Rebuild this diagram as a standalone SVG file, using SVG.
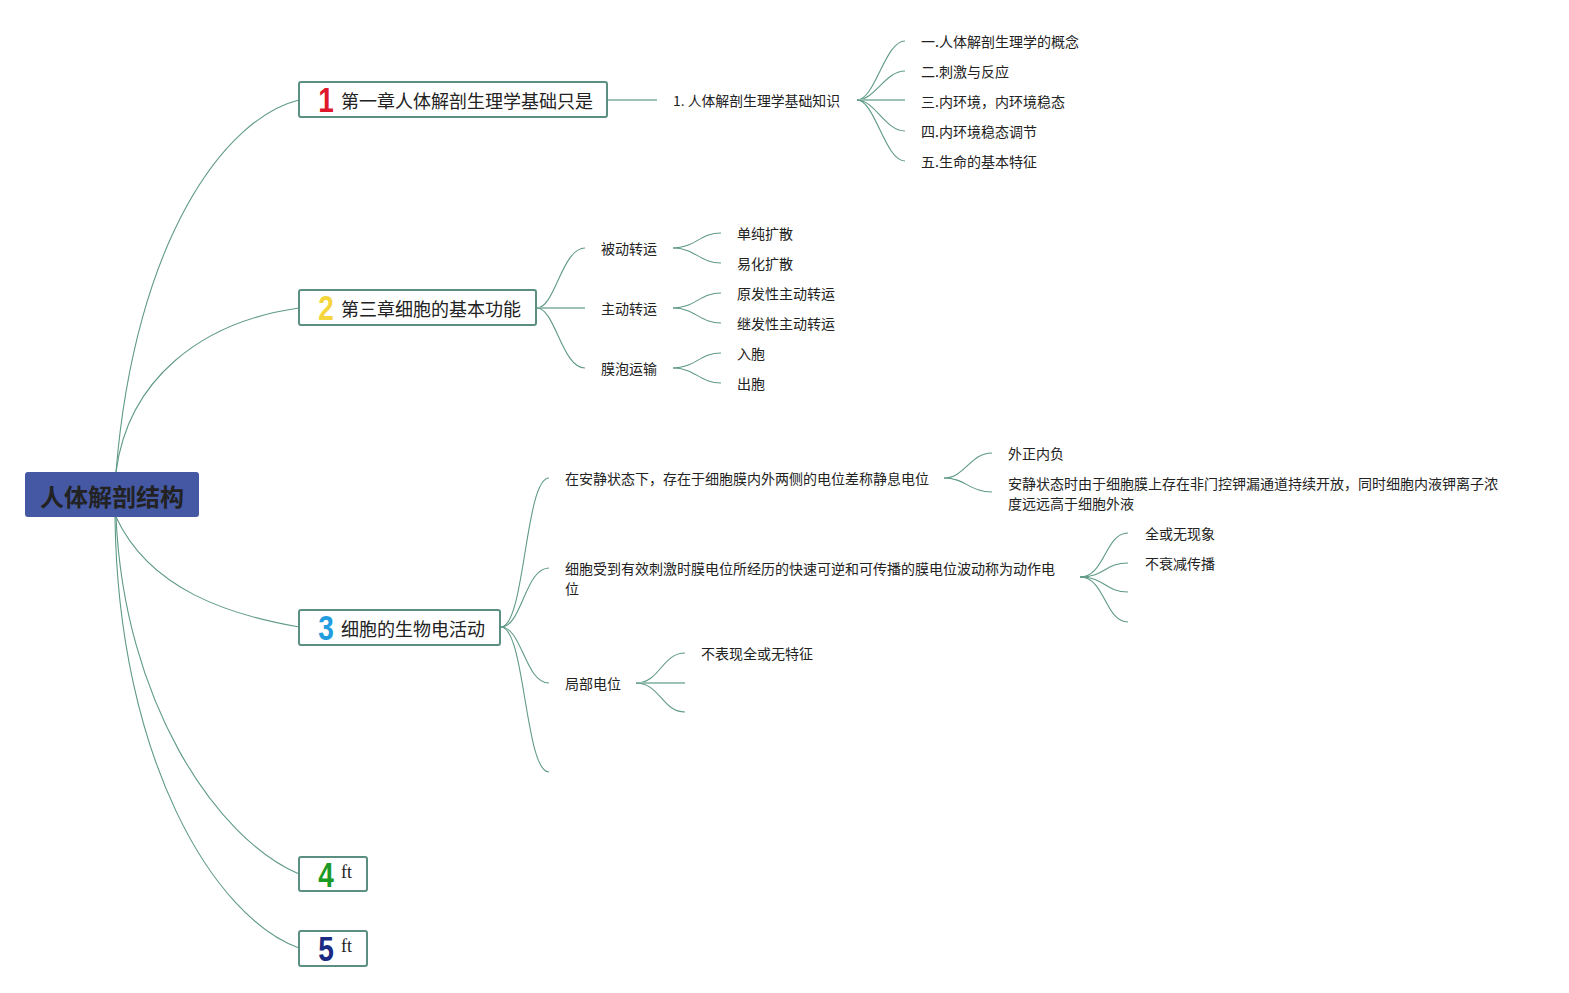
<svg xmlns="http://www.w3.org/2000/svg" width="1569" height="993" viewBox="0 0 1569 993">
<style>
.c{fill:none;stroke:#5f9987;stroke-width:1.1}
.s{fill:none;stroke:#9cc3b6;stroke-width:2}
.box{fill:#fff;stroke:#5b8f81;stroke-width:2}
.t{font-family:"Noto Sans CJK SC","Noto Sans",sans-serif;fill:#222;dominant-baseline:central}
.n{font-family:"Liberation Sans","Noto Sans",sans-serif;font-weight:900;font-size:35px;dominant-baseline:central}
.ft{font-family:"Liberation Serif",serif;font-size:18px;fill:#222}
</style>
<rect width="1569" height="993" fill="#fff"/>
<g id="connectors">
<path class="c" d="M116,472 C135,240 225,118 299,100"/>
<path class="c" d="M116,472 C128,380 200,322 299,308"/>
<path class="c" d="M116,517 C150,590 230,615 299,627"/>
<path class="c" d="M116,517 C124,700 215,838 299,874"/>
<path class="c" d="M115,517 C118,760 215,918 299,948"/>
<line class="s" x1="607" y1="100" x2="657" y2="100"/>
<path class="c" d="M857,100 C875,100 885,41 905,41"/>
<path class="c" d="M857,100 C875,100 885,71 905,71"/>
<line class="s" x1="857" y1="100" x2="905" y2="100"/>
<path class="c" d="M857,100 C875,100 885,131 905,131"/>
<path class="c" d="M857,100 C875,100 885,161 905,161"/>
<path class="c" d="M537,308 C555,308 562,248 585,248"/>
<line class="s" x1="537" y1="308" x2="585" y2="308"/>
<path class="c" d="M537,308 C555,308 562,368 585,368"/>
<path class="c" d="M673,248 C695,248 700,233 721,233"/>
<path class="c" d="M673,248 C695,248 700,263 721,263"/>
<path class="c" d="M673,308 C695,308 700,293 721,293"/>
<path class="c" d="M673,308 C695,308 700,323 721,323"/>
<path class="c" d="M673,368 C695,368 700,353 721,353"/>
<path class="c" d="M673,368 C695,368 700,383 721,383"/>
<path class="c" d="M501,627 C525,627 525,478 549,478"/>
<path class="c" d="M501,627 C522,627 525,568 549,568"/>
<path class="c" d="M501,627 C522,627 525,683 549,683"/>
<path class="c" d="M501,627 C525,627 525,772 549,772"/>
<path class="c" d="M944,478 C965,478 970,453 992,453"/>
<path class="c" d="M944,478 C965,478 970,492 992,492"/>
<path class="c" d="M1080,577 C1105,577 1105,533 1128,533"/>
<path class="c" d="M1080,577 C1105,577 1105,563 1128,563"/>
<path class="c" d="M1080,577 C1105,577 1105,592 1128,592"/>
<path class="c" d="M1080,577 C1105,577 1105,622 1128,622"/>
<path class="c" d="M636,683 C660,683 662,653 685,653"/>
<line class="s" x1="636" y1="683" x2="685" y2="683"/>
<path class="c" d="M636,683 C660,683 662,712 685,712"/>
</g>
<g id="root">
<rect x="25" y="472" width="174" height="45" rx="3" fill="#4558a4"/>
<text class="t" x="112" y="495" font-size="24" font-weight="bold" text-anchor="middle" fill="#111">人体解剖结构</text>
</g>
<g id="n1">
<rect class="box" x="299" y="82" width="308" height="35" rx="2"/>
<text class="n" x="326" y="100" fill="#e0182e" text-anchor="middle" transform="translate(326 0) scale(0.8 1) translate(-326 0)">1</text>
<text class="t" x="341" y="100" font-size="18">第一章人体解剖生理学基础只是</text>
</g>
<g id="n2">
<rect class="box" x="299" y="290" width="237" height="35" rx="2"/>
<text class="n" x="326" y="308" fill="#f4d53c" text-anchor="middle" transform="translate(326 0) scale(0.8 1) translate(-326 0)">2</text>
<text class="t" x="341" y="308" font-size="18">第三章细胞的基本功能</text>
</g>
<g id="n3">
<rect class="box" x="299" y="610" width="201" height="35" rx="2"/>
<text class="n" x="326" y="628" fill="#229ddf" text-anchor="middle" transform="translate(326 0) scale(0.8 1) translate(-326 0)">3</text>
<text class="t" x="341" y="628" font-size="18">细胞的生物电活动</text>
</g>
<g id="n4">
<rect class="box" x="299" y="857" width="68" height="34" rx="2"/>
<text class="n" x="326" y="875" fill="#1c9a26" text-anchor="middle" transform="translate(326 0) scale(0.8 1) translate(-326 0)">4</text>
<text class="ft" x="341" y="878">ft</text>
</g>
<g id="n5">
<rect class="box" x="299" y="931" width="68" height="35" rx="2"/>
<text class="n" x="326" y="949" fill="#1b2a82" text-anchor="middle" transform="translate(326 0) scale(0.8 1) translate(-326 0)">5</text>
<text class="ft" x="341" y="952">ft</text>
</g>
<g id="n1-1"><text class="t" x="673" y="100" font-size="13.5" textLength="167" lengthAdjust="spacingAndGlyphs">1. 人体解剖生理学基础知识</text></g>
<g id="n1-1-1"><text class="t" x="921" y="41" font-size="14">一.人体解剖生理学的概念</text></g>
<g id="n1-1-2"><text class="t" x="921" y="71" font-size="14">二.刺激与反应</text></g>
<g id="n1-1-3"><text class="t" x="921" y="101" font-size="14">三.内环境，内环境稳态</text></g>
<g id="n1-1-4"><text class="t" x="921" y="131" font-size="14">四.内环境稳态调节</text></g>
<g id="n1-1-5"><text class="t" x="921" y="161" font-size="14">五.生命的基本特征</text></g>
<g id="n2-1"><text class="t" x="601" y="248" font-size="14">被动转运</text></g>
<g id="n2-2"><text class="t" x="601" y="308" font-size="14">主动转运</text></g>
<g id="n2-3"><text class="t" x="601" y="368" font-size="14">膜泡运输</text></g>
<g id="n2-1-1"><text class="t" x="737" y="233" font-size="14">单纯扩散</text></g>
<g id="n2-1-2"><text class="t" x="737" y="263" font-size="14">易化扩散</text></g>
<g id="n2-2-1"><text class="t" x="737" y="293" font-size="14">原发性主动转运</text></g>
<g id="n2-2-2"><text class="t" x="737" y="323" font-size="14">继发性主动转运</text></g>
<g id="n2-3-1"><text class="t" x="737" y="353" font-size="14">入胞</text></g>
<g id="n2-3-2"><text class="t" x="737" y="383" font-size="14">出胞</text></g>
<g id="n3-1"><text class="t" x="565" y="478" font-size="14">在安静状态下，存在于细胞膜内外两侧的电位差称静息电位</text></g>
<g id="n3-1-1"><text class="t" x="1008" y="453" font-size="14">外正内负</text></g>
<g id="n3-1-2"><text class="t" x="1008" y="483" font-size="14">安静状态时由于细胞膜上存在非门控钾漏通道持续开放，同时细胞内液钾离子浓</text><text class="t" x="1008" y="503" font-size="14">度远远高于细胞外液</text></g>
<g id="n3-2"><text class="t" x="565" y="568" font-size="14">细胞受到有效刺激时膜电位所经历的快速可逆和可传播的膜电位波动称为动作电</text><text class="t" x="565" y="588" font-size="14">位</text></g>
<g id="n3-2-1"><text class="t" x="1145" y="533" font-size="14">全或无现象</text></g>
<g id="n3-2-2"><text class="t" x="1145" y="563" font-size="14">不衰减传播</text></g>
<g id="n3-3"><text class="t" x="565" y="683" font-size="14">局部电位</text></g>
<g id="n3-3-1"><text class="t" x="701" y="653" font-size="14">不表现全或无特征</text></g>
</svg>
